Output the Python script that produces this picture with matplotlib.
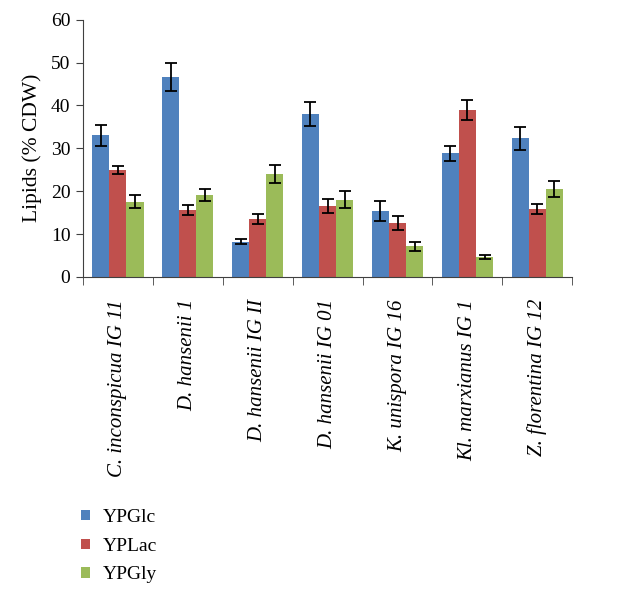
import numpy as np
import matplotlib
matplotlib.use("Agg")
import matplotlib.pyplot as plt

# souches et valeurs
souches = ["C. inconspicua IG 11", "D. hansenii 1", "D. hansenii IG II",
           "D. hansenii IG 01", "K. unispora IG 16", "Kl. marxianus IG 1",
           "Z. florentina IG 12"]
milieux = ["YPGlc", "YPLac", "YPGly"]

YPGlc = [33.0, 46.6, 8.2, 38.0, 15.4, 28.8, 32.3]
YPGlc_err = [2.5, 3.2, 0.6, 2.8, 2.3, 1.8, 2.7]
YPLac = [25.0, 15.6, 13.5, 16.6, 12.6, 38.9, 15.8]
YPLac_err = [0.9, 1.2, 1.1, 1.6, 1.6, 2.4, 1.1]
YPGly = [17.5, 19.1, 24.1, 18.0, 7.1, 4.6, 20.5]
YPGly_err = [1.5, 1.5, 2.1, 2.0, 1.0, 0.5, 1.8]

couleurs = ["#4F81BD", "#C0504D", "#9BBB59"]

plt.rcParams['font.family'] = ['Liberation Serif', 'DejaVu Serif']

fig = plt.figure(figsize=(6.43, 5.98), dpi=100)
ax = fig.add_axes([0.129, 0.537, 0.761, 0.43])

x = np.arange(len(souches))
w = 0.245
series = [(YPGlc, YPGlc_err), (YPLac, YPLac_err), (YPGly, YPGly_err)]
for i, (vals, errs) in enumerate(series):
    ax.bar(x + (i - 1) * w, vals, w, color=couleurs[i], label=milieux[i],
           yerr=errs, capsize=4,
           error_kw=dict(ecolor="black", elinewidth=1.3, capthick=1.3))

ax.set_xlim(-0.5, len(souches) - 0.5)
ax.set_ylim(0, 60)
ax.set_yticks(np.arange(0, 61, 10))
ax.tick_params(axis="y", labelsize=14, direction="out", length=5, pad=4,
               color="#404040")
ax.set_ylabel("Lipids (% CDW)", fontsize=15.5, labelpad=6)

ax.set_xticks(x)
ax.set_xticklabels(souches, rotation=90, style="italic", fontsize=15)
ax.tick_params(axis="x", length=0, pad=16)
ax.set_xticks(np.arange(-0.5, len(souches), 1), minor=True)
ax.tick_params(axis="x", which="minor", length=6, direction="out", color="#404040")

for s in ["top", "right"]:
    ax.spines[s].set_visible(False)
ax.spines["left"].set_color("#404040")
ax.spines["bottom"].set_color("#404040")

fig.legend(loc="lower left", bbox_to_anchor=(0.099, -0.005), frameon=False,
           fontsize=14, handlelength=0.45, handleheight=0.45, labelspacing=0.6,
           handletextpad=0.65)

fig.savefig("out.png", dpi=100)
